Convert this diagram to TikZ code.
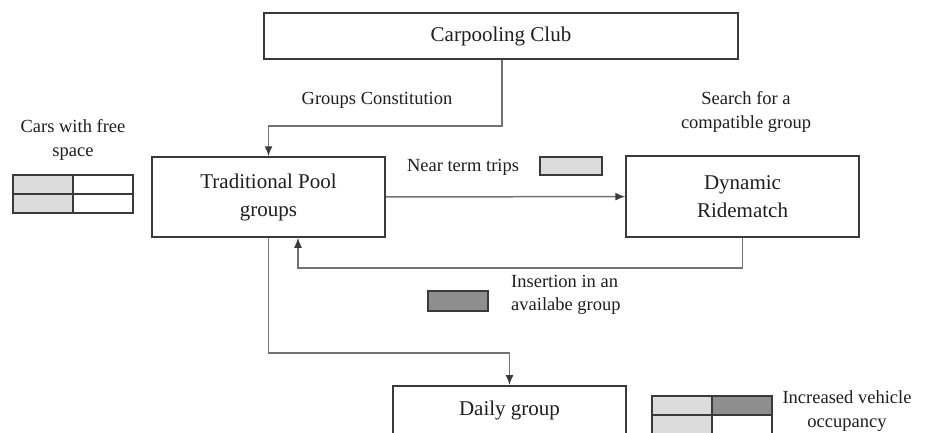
\documentclass[tikz,border=0pt]{standalone}
\usepackage{fontspec}
\setmainfont{Liberation Serif}
\usetikzlibrary{arrows.meta}
\definecolor{boxline}{HTML}{3A3A3A}
\definecolor{connline}{HTML}{737373}
\definecolor{lightcell}{HTML}{DCDCDC}
\definecolor{darkcell}{HTML}{8E8E8E}
\definecolor{inktext}{HTML}{1E1E1E}

\begin{document}
\begin{tikzpicture}[x=1pt, y=-1pt, every node/.style={text=inktext},
  block/.style={draw=boxline, line width=1.5pt, inner sep=0pt, align=center, font=\fontsize{21}{28}\selectfont},
  lbl/.style={font=\fontsize{18.5}{23.5}\selectfont, inner sep=0pt, align=center},
  conn/.style={draw=connline, line width=1.5pt, -{Latex[length=10pt, width=8pt, color=boxline]}},
  cell/.style={draw=boxline, line width=1.2pt, minimum width=60pt, minimum height=19pt, inner sep=0pt},
  tag/.style={draw=boxline, line width=1.2pt, inner sep=0pt}]
\clip (0,0) rectangle (933,432);

% ---------- main blocks ----------
\node[block, minimum width=474pt, minimum height=46pt] (club) at (501,36) {Carpooling Club};
\node[block, minimum width=233pt, minimum height=80pt] (trad) at (268.5,197) {Traditional Pool\\groups};
\node[block, minimum width=233pt, minimum height=81pt] (dyn) at (742.5,196.5) {Dynamic\\Ridematch};
\node[block, minimum width=233pt, minimum height=50pt, anchor=north] (daily) at (509.5,385) {Daily group};

% ---------- labels ----------
\node[lbl] (gclbl) at (377,100) {Groups Constitution};
\node[lbl] (carslbl) at (73,140) {Cars with free\\space};
\node[lbl] (searchlbl) at (746,112) {Search for a\\compatible group};
\node[lbl] (ntlbl) at (463,167) {Near term trips};
\node[lbl, align=left, anchor=west] (inslbl) at (511,295) {Insertion in an\\availabe group};
\node[lbl] (occlbl) at (847,411) {Increased vehicle\\occupancy};

% ---------- small seat markers ----------
\node[tag, fill=lightcell, minimum width=62pt, minimum height=18pt] (ntbox) at (571,166) {};
\node[tag, fill=darkcell, minimum width=60pt, minimum height=20pt] (insbox) at (458,301) {};

% cars with free space
\node[cell, fill=lightcell] (ca1) at (43,184.5) {};
\node[cell] (ca2) at (103,184.5) {};
\node[cell, fill=lightcell] (ca3) at (43,203.5) {};
\node[cell] (ca4) at (103,203.5) {};

% increased occupancy
\node[cell, fill=lightcell] (oc1) at (682,405.5) {};
\node[cell, fill=darkcell] (oc2) at (742,405.5) {};
\node[cell, fill=lightcell] (oc3) at (682,424.5) {};
\node[cell] (oc4) at (742,424.5) {};

% ---------- connectors ----------
\coordinate (gc) at (502,126);
\coordinate (ret) at (298,268);
\draw[conn] (club.south -| gc) -- (gc) -| (trad.north);
\draw[conn] (trad) -- (dyn);
\draw[conn] (dyn.south) |- (ret) -- (ret |- trad.south);
\draw[conn] (trad.south) -- ++(0,115) -| (daily.north);

\end{tikzpicture}
\end{document}
